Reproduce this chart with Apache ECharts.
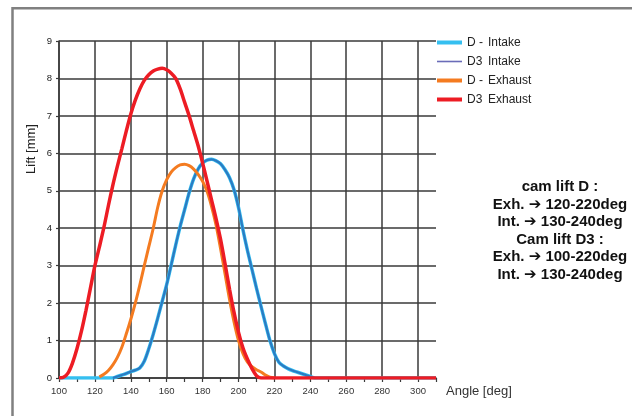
<!DOCTYPE html>
<html>
<head>
<meta charset="utf-8">
<script src="https://cdn.jsdelivr.net/npm/echarts@6/dist/echarts.min.js"></script>
<style>
  html, body { margin: 0; padding: 0; background: #ffffff; }
  #chart { width: 632px; height: 416px; }
</style>
</head>
<body>
<div id="chart"></div>
<script>
// Cam lift profiles: angle [deg] vs. valve lift [mm]
const dIntakeAngle = [100, 110, 120, 130, 132.5, 135, 137.5, 140, 142.5, 145, 147.5, 150, 152.5, 155, 157.5, 160, 162.5, 165, 167.5, 170, 172.5, 175, 177.5, 180, 182.5, 185, 187.5, 190, 192.5, 195, 197.5, 200, 202.5, 205, 207.5, 210, 212.5, 215, 217.5, 220, 222.5, 225, 227.5, 230, 232.5, 235, 237.5, 240, 242.5, 250, 260, 270, 280, 290, 300, 310];
const dIntakeLift  = [0, 0, 0, 0, 0.04, 0.08, 0.12, 0.17, 0.21, 0.27, 0.45, 0.78, 1.17, 1.6, 2.05, 2.5, 3.02, 3.55, 4.05, 4.5, 4.95, 5.32, 5.58, 5.74, 5.82, 5.84, 5.8, 5.72, 5.56, 5.35, 5.03, 4.55, 3.95, 3.4, 2.9, 2.4, 1.92, 1.45, 1.0, 0.65, 0.42, 0.32, 0.25, 0.2, 0.16, 0.12, 0.08, 0.04, 0, 0, 0, 0, 0, 0, 0, 0];

const d3IntakeAngle = [130, 132.5, 135, 137.5, 140, 142.5, 145, 147.5, 150, 152.5, 155, 157.5, 160, 162.5, 165, 167.5, 170, 172.5, 175, 177.5, 180, 182.5, 185, 187.5, 190, 192.5, 195, 197.5, 200, 202.5, 205, 207.5, 210, 212.5, 215, 217.5, 220, 222.5, 225, 227.5, 230, 232.5, 235, 237.5, 240, 242.5];
const d3IntakeLift  = [0, 0.04, 0.08, 0.12, 0.17, 0.21, 0.27, 0.45, 0.78, 1.17, 1.6, 2.05, 2.5, 3.02, 3.55, 4.05, 4.5, 4.95, 5.32, 5.58, 5.74, 5.82, 5.84, 5.8, 5.72, 5.56, 5.35, 5.03, 4.55, 3.95, 3.4, 2.9, 2.4, 1.92, 1.45, 1.0, 0.65, 0.42, 0.32, 0.25, 0.2, 0.16, 0.12, 0.08, 0.04, 0];

const dExhaustAngle = [122.5, 125, 127.5, 130, 132.5, 135, 137.5, 140, 142.5, 145, 147.5, 150, 152.5, 155, 157.5, 160, 162.5, 165, 167.5, 170, 172.5, 175, 177.5, 180, 182.5, 185, 187.5, 190, 192.5, 195, 197.5, 200, 202.5, 205, 207.5, 210, 212.5, 215, 217.5, 220];
const dExhaustLift  = [0.03, 0.1, 0.2, 0.35, 0.55, 0.82, 1.18, 1.57, 2.0, 2.48, 3.0, 3.5, 4.0, 4.56, 5.0, 5.3, 5.5, 5.62, 5.69, 5.71, 5.67, 5.58, 5.44, 5.25, 4.98, 4.58, 4.08, 3.45, 2.78, 2.1, 1.5, 1.0, 0.65, 0.42, 0.3, 0.22, 0.16, 0.08, 0.02, 0];

const d3ExhaustAngle = [100, 102.5, 105, 107.5, 110, 112.5, 115, 117.5, 120, 122.5, 125, 127.5, 130, 132.5, 135, 137.5, 140, 142.5, 145, 147.5, 150, 152.5, 155, 157.5, 160, 162.5, 165, 167.5, 170, 172.5, 175, 177.5, 180, 182.5, 185, 187.5, 190, 192.5, 195, 197.5, 200, 202.5, 205, 207.5, 210, 212.5, 220, 230, 240, 250, 260, 270, 280, 290, 300, 310];
const d3ExhaustLift  = [0, 0.02, 0.13, 0.4, 0.78, 1.25, 1.8, 2.4, 3.0, 3.5, 4.02, 4.6, 5.15, 5.65, 6.12, 6.6, 7.05, 7.42, 7.72, 7.95, 8.1, 8.2, 8.25, 8.27, 8.23, 8.14, 8.0, 7.72, 7.36, 7.0, 6.6, 6.2, 5.74, 5.25, 4.75, 4.25, 3.7, 3.05, 2.37, 1.75, 1.22, 0.8, 0.5, 0.25, 0.06, 0, 0, 0, 0, 0, 0, 0, 0, 0, 0, 0];

// Legend wording: short prefix + valve side
const legendPrefix = ['D -', 'D3', 'D -', 'D3'];
const legendSuffix = ['Intake', 'Intake', 'Exhaust', 'Exhaust'];
const seriesNames = legendPrefix.map((p, i) => p + ' ' + legendSuffix[i]);

// Axis ranges
const angleMin = 100, angleMax = 310, angleStep = 20;
const liftMin = 0, liftMax = 9, liftStep = 1;

// Side note about the opening windows
const noteLines = [
  'cam lift D :',
  'Exh. \u2794 120-220deg',
  'Int. \u2794 130-240deg',
  'Cam lift D3 :',
  'Exh. \u2794 100-220deg',
  'Int. \u2794 130-240deg'
];

const zip = (xs, ys) => xs.map((x, i) => [x, ys[i]]);

const colors = {
  dIntake: '#35bff0',
  d3Intake: '#2b7bc3',
  d3IntakeKey: '#6a6cb8',
  dExhaust: '#f47b20',
  d3Exhaust: '#ed1c24'
};

const FONT = '"Liberation Sans", Arial, "DejaVu Sans", sans-serif';

const chart = echarts.init(document.getElementById('chart'), null, { renderer: 'canvas' });

const lineBase = { type: 'line', showSymbol: false, symbol: 'none', smooth: 0.3, animation: false, z: 3 };

chart.setOption({
  animation: false,
  backgroundColor: '#ffffff',
  grid: { left: 59, right: 196, top: 41, bottom: 38, containLabel: false },
  xAxis: {
    type: 'value',
    min: angleMin, max: angleMax, interval: angleStep,
    axisLine: { show: true, lineStyle: { color: '#3a3a3a', width: 1.5 } },
    axisTick: { show: true, length: 4, lineStyle: { color: '#3a3a3a', width: 1.2 } },
    minorTick: { show: true, splitNumber: 2, length: 4, lineStyle: { color: '#3a3a3a', width: 1.2 } },
    axisLabel: { showMaxLabel: false, margin: 8, fontSize: 9.5, color: '#333', fontFamily: FONT },
    splitLine: { show: true, showMaxLine: false, lineStyle: { color: '#3a3a3a', width: 1.5 } }
  },
  yAxis: {
    type: 'value',
    min: liftMin, max: liftMax, interval: liftStep,
    axisLine: { show: true, lineStyle: { color: '#3a3a3a', width: 1.5 } },
    axisTick: { show: true, length: 3, lineStyle: { color: '#3a3a3a', width: 1.2 } },
    axisLabel: { margin: 7, fontSize: 9.5, color: '#222', fontFamily: FONT },
    splitLine: { show: true, lineStyle: { color: '#3a3a3a', width: 1.5 } }
  },
  legend: {
    orient: 'vertical',
    left: 437, top: 36.5, padding: 0,
    itemWidth: 25, itemHeight: 4, itemGap: 7,
    selectedMode: false,
    textStyle: {
      fontSize: 12, color: '#222', fontFamily: FONT,
      rich: {
        p: { width: 21, fontSize: 12, color: '#222', fontFamily: FONT },
        s: { fontSize: 12, color: '#222', fontFamily: FONT }
      }
    },
    formatter: name => {
      const i = seriesNames.indexOf(name);
      return '{p|' + legendPrefix[i] + '}{s|' + legendSuffix[i] + '}';
    },
    data: [
      { name: seriesNames[0], icon: 'path://M0,0H25V4H0Z', itemStyle: { color: colors.dIntake } },
      { name: seriesNames[1], icon: 'path://M0,0H25V1.6H0Z', itemStyle: { color: colors.d3IntakeKey } },
      { name: seriesNames[2], icon: 'path://M0,0H25V4H0Z', itemStyle: { color: colors.dExhaust } },
      { name: seriesNames[3], icon: 'path://M0,0H25V4H0Z', itemStyle: { color: colors.d3Exhaust } }
    ]
  },
  graphic: [
    {
      type: 'rect', silent: true, z: -10,
      shape: { x: 12.5, y: 8.3, width: 640, height: 430 },
      style: { fill: 'none', stroke: '#808080', lineWidth: 2.5 }
    },
    {
      type: 'text', silent: true,
      x: 31.5, y: 149, rotation: Math.PI / 2,
      style: { text: 'Lift [mm]', fontSize: 13, fontFamily: FONT, fill: '#222', align: 'center', verticalAlign: 'middle' }
    },
    {
      type: 'text', silent: true,
      x: 446, y: 391,
      style: { text: 'Angle [deg]', fontSize: 13, fontFamily: FONT, fill: '#333', align: 'left', verticalAlign: 'middle' }
    },
    {
      type: 'text', silent: true,
      x: 560, y: 178,
      style: {
        text: noteLines.join('\n'),
        fontSize: 15, fontWeight: 'bold', fontFamily: FONT, fill: '#111',
        align: 'center', verticalAlign: 'top', lineHeight: 17.6
      }
    }
  ],
  series: [
    Object.assign({}, lineBase, {
      name: seriesNames[0], color: colors.dIntake,
      lineStyle: { color: colors.dIntake, width: 3.5 },
      data: zip(dIntakeAngle, dIntakeLift)
    }),
    Object.assign({}, lineBase, {
      name: seriesNames[1], color: colors.d3Intake,
      lineStyle: { color: colors.d3Intake, width: 2.2 },
      data: zip(d3IntakeAngle, d3IntakeLift)
    }),
    Object.assign({}, lineBase, {
      name: seriesNames[2], color: colors.dExhaust,
      lineStyle: { color: colors.dExhaust, width: 3 },
      data: zip(dExhaustAngle, dExhaustLift)
    }),
    Object.assign({}, lineBase, {
      name: seriesNames[3], color: colors.d3Exhaust,
      lineStyle: { color: colors.d3Exhaust, width: 3.5 },
      data: zip(d3ExhaustAngle, d3ExhaustLift)
    })
  ]
});
</script>
</body>
</html>
